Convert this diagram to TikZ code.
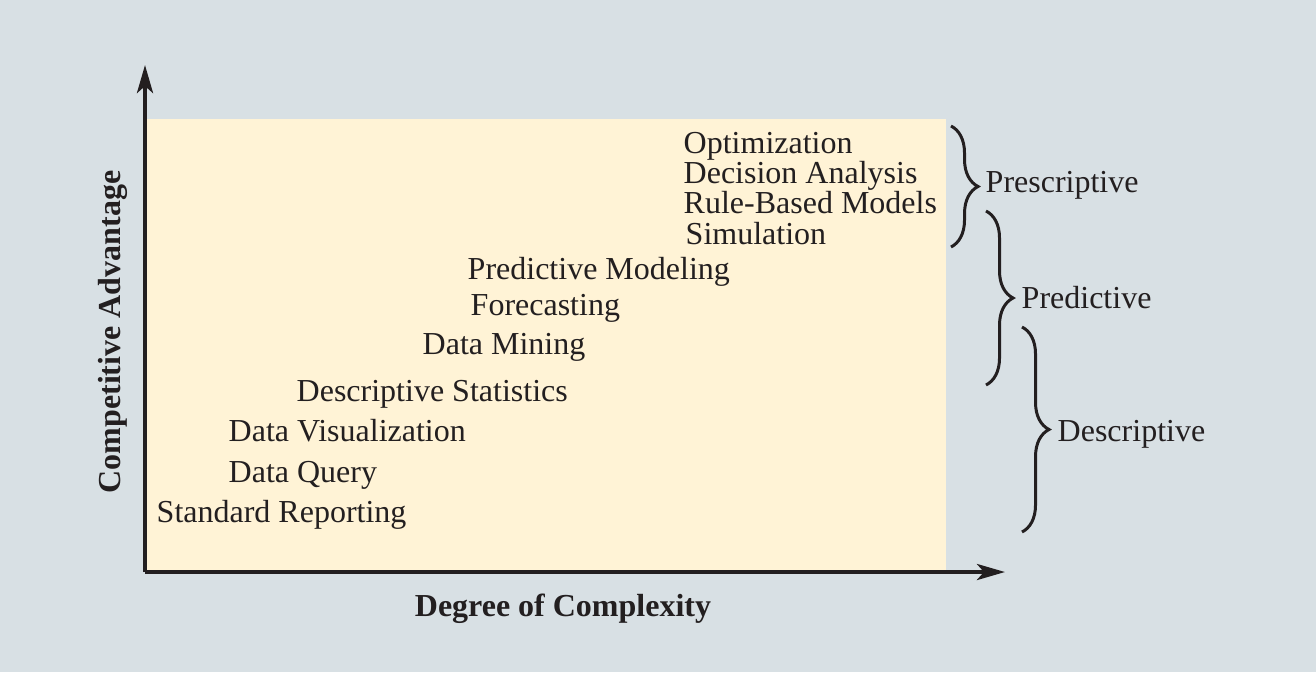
\documentclass[tikz,border=0pt]{standalone}
\usepackage{fontspec}
\setmainfont{Liberation Serif}
\usepackage{xcolor}
\usetikzlibrary{arrows.meta,positioning,calc,decorations.pathreplacing}
\definecolor{bgcolor}{RGB}{216,224,228}
\definecolor{areacolor}{RGB}{255,243,214}
\definecolor{inkcolor}{RGB}{35,31,32}

\begin{document}
\begin{tikzpicture}[
    x=0.01cm, y=-0.01cm,
    item/.style={anchor=base west, inner sep=0pt, text=inkcolor, font=\fontsize{9.1}{11}\selectfont},
    axislabel/.style={inner sep=0pt, text=inkcolor, font=\fontsize{9.1}{11}\selectfont\bfseries},
    axis/.style={draw=inkcolor, line width=1.15pt, -{Stealth[length=0.28cm, width=0.16cm, inset=0.07cm]}},
    curly/.style={draw=inkcolor, line width=0.85pt, decorate, decoration={brace, amplitude=0.27cm}}
]

% Background and area
\useasboundingbox[fill=bgcolor] (0,0) rectangle (1316,672);
\fill[areacolor] (145,119) rectangle (946,572);

% ============ Axes ============
\coordinate (origin) at (145,572);
\coordinate (ytip) at (145,65);
\coordinate (xtip) at (1005,572);
\draw[axis] (origin) -- (ytip);
\draw[axis] (origin) -- (xtip);
\node[axislabel, rotate=90] (ylab) at (113,332) {Competitive Advantage};
\node[axislabel] (xlab) at (563,609) {Degree of Complexity};

% ============ Techniques ============
\node[item] (opt) at (683,153) {Optimization};
\node[item] (decan) at (683,183) {Decision Analysis};
\node[item] (rbm) at (683,213) {Rule-Based Models};
\node[item] (sim) at (685,244) {Simulation};
\node[item] (predmod) at (467,279) {Predictive Modeling};
\node[item] (forecast) at (470,315) {Forecasting};
\node[item] (dmine) at (422,354) {Data Mining};
\node[item] (descstat) at (296,401) {Descriptive Statistics};
\node[item] (dviz) at (228,441) {Data Visualization};
\node[item] (dquery) at (228,482) {Data Query};
\node[item] (stdrep) at (156,522) {Standard Reporting};

% ============ Braces ============
% Prescriptive
\coordinate (pres1) at (951,126);
\coordinate (pres2) at (951,247);
\draw[curly] (pres1) -- (pres2);
\node[item] (preslab) at (985,192) {Prescriptive};

% Predictive
\coordinate (pred1) at (986,211);
\coordinate (pred2) at (986,385);
\draw[curly] (pred1) -- (pred2);
\node[item] (predlab) at (1021,308) {Predictive};

% Descriptive
\coordinate (desc1) at (1022,327);
\coordinate (desc2) at (1022,532);
\draw[curly] (desc1) -- (desc2);
\node[item] (desclab) at (1057,441) {Descriptive};

\end{tikzpicture}
\end{document}
